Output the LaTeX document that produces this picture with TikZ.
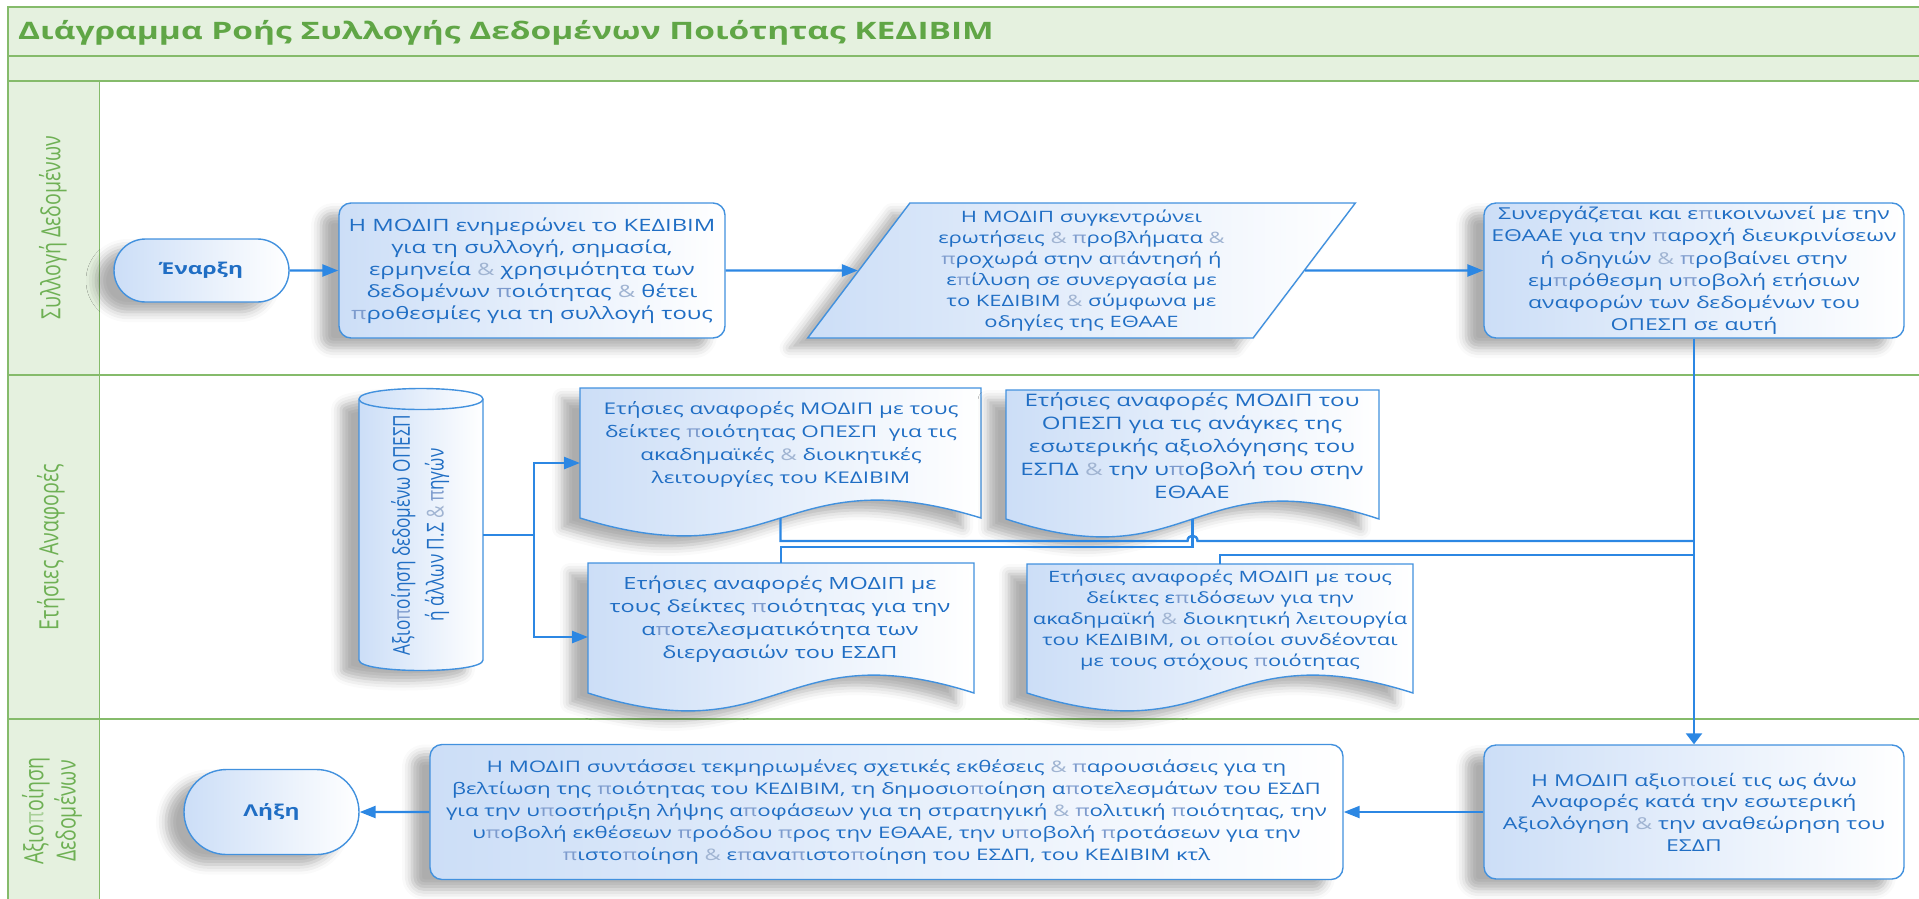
\documentclass[tikz,border=0pt]{standalone}
\usepackage{fontspec}
\usepackage{graphicx}
\setmainfont{Open Sans}
\newfontfamily\bodyfont[FakeStretch=1.4]{Open Sans}
\newfontfamily\titlefont[FakeStretch=1.395]{Open Sans}
\newfontfamily\plainfont{Open Sans}
\usetikzlibrary{arrows.meta,shapes.geometric,shapes.misc,shadows.blur,calc}

\definecolor{lanefill}{RGB}{229,241,223}
\definecolor{laneline}{RGB}{133,187,107}
\definecolor{titlegreen}{RGB}{96,166,70}
\definecolor{lanetext}{RGB}{110,176,84}
\definecolor{flow}{RGB}{44,135,227}
\definecolor{edge}{RGB}{66,145,222}
\definecolor{txtblue}{RGB}{32,110,196}
\definecolor{ampcol}{RGB}{160,180,210}
\definecolor{picol}{RGB}{125,155,205}
\definecolor{fillblue}{RGB}{204,222,247}

\newcommand\ampc{{\color{ampcol}\&}}
\newcommand\pgr{{\color{picol}π}}
\newcommand\lpgr{{\color{lanetext!60}π}}
\newcommand\bsz[2]{\bodyfont\fontsize{#1}{#2}\selectfont}

\tikzset{
  shapefill/.style={left color=fillblue, right color=white},
  shadowed/.style={blur shadow={shadow xshift=-18pt, shadow yshift=-10pt, shadow opacity=32, shadow blur radius=10pt}},
  body/.style={text=txtblue, font=\bsz{16}{22}, align=center},
  procbox/.style={body, draw=edge, line width=1.4pt, rounded corners=12pt, shapefill, shadowed, inner sep=0pt},
  termbox/.style={procbox, rounded rectangle, sharp corners, font=\bodyfont\bfseries\fontsize{16.3}{22}\selectfont},
  iobox/.style={procbox, trapezium, trapezium left angle=54.9, trapezium right angle=125.1, trapezium stretches=true, sharp corners},
  docframe/.style={draw=edge, line width=1.4pt, shapefill, shadowed},
  docanchor/.style={draw=none, inner sep=0pt, outer sep=0pt, anchor=north west},
  flowline/.style={draw=flow, line width=2.4pt},
  harrow/.style={flowline, -{Triangle[length=16pt, width=12pt]}},
  varrow/.style={flowline, -{Triangle[length=11pt, width=16pt]}},
  lanelabel/.style={text=lanetext, font=\plainfont\fontsize{19.6}{24}\selectfont, rotate=90, inner sep=0pt},
}

\begin{document}
\begin{tikzpicture}[x=1pt, y=-1pt]
\useasboundingbox (0,0) rectangle (1919,898);

% ---- swimlane frame ----
\fill[lanefill] (8,7) rectangle (1930,81);
\fill[lanefill] (8,81) rectangle (99.5,905);
\draw[laneline, line width=2pt] (1930,7) -- (8,7) -- (8,905);
\draw[laneline, line width=2pt] (8,56) -- (1930,56);
\draw[laneline, line width=2pt] (8,81) -- (1930,81);
\draw[laneline, line width=1.5pt] (99.5,81) -- (99.5,905);
\draw[laneline, line width=1.5pt] (8,375) -- (1930,375);
\draw[laneline, line width=1.5pt] (8,719) -- (1930,719);

\node[anchor=base west, text=titlegreen, font=\titlefont\bfseries\fontsize{24}{28}\selectfont, inner sep=0pt] (title) at (18,39.5) {Διάγραμμα Ροής Συλλογής Δεδομένων Ποιότητας ΚΕΔΙΒΙΜ};

\node[lanelabel] (lane1) at (53,228) {\scalebox{1}[1.35]{Συλλογή Δεδομένων}};
\node[lanelabel] (lane2) at (51,547) {\scalebox{1}[1.35]{Ετήσιες Αναφορές}};
\node[lanelabel] (lane3) at (53,811) {\scalebox{1}[1.35]{\begin{tabular}{@{}c@{}}Αξιο\lpgr{}οίηση\\Δεδομένων\end{tabular}}};

% ---- lane 1 ----
\node[termbox, minimum width=175pt, minimum height=63pt] (start) at (201.5,270.5) {Έναρξη};
\node[procbox, minimum width=386pt, minimum height=135pt, font=\bsz{17}{22}] (b1) at (532,270.5) {Η ΜΟΔΙΠ ενημερώνει το ΚΕΔΙΒΙΜ\\για τη συλλογή, σημασία,\\ερμηνεία \ampc{} χρησιμότητα των\\δεδομένων \pgr{}οιότητας \ampc{} θέτει\\\pgr{}ροθεσμίες για τη συλλογή τους};
\node[iobox, minimum width=549pt, minimum height=135pt, font=\bsz{15.7}{21}] (par) at (1081.5,270.5) {Η ΜΟΔΙΠ συγκεντρώνει\\ερωτήσεις \ampc{} \pgr{}ροβλήματα \ampc\\\pgr{}ροχωρά στην α\pgr{}άντησή ή\\ε\pgr{}ίλυση σε συνεργασία με\\το ΚΕΔΙΒΙΜ \ampc{} σύμφωνα με\\οδηγίες της ΕΘΑΑΕ};
\node[procbox, minimum width=420pt, minimum height=135pt, font=\bsz{16.4}{22.2}] (b3) at (1694,270.5) {Συνεργάζεται και ε\pgr{}ικοινωνεί με την\\ΕΘΑΑΕ για την \pgr{}αροχή διευκρινίσεων\\ή οδηγιών \ampc{} \pgr{}ροβαίνει στην\\εμ\pgr{}ρόθεσμη υ\pgr{}οβολή ετήσιων\\αναφορών των δεδομένων του\\ΟΠΕΣΠ σε αυτή};

% ---- lane 2 ----
\node[draw=none, inner sep=0pt, outer sep=0pt, minimum width=124pt, minimum height=261pt] (cyl) at (421,529.5) {};
\path[docframe] (cyl.north west) -- (cyl.south west) .. controls +(0,14) and +(0,14) .. (cyl.south east) -- (cyl.north east) .. controls +(0,-14) and +(0,-14) .. (cyl.north west) -- cycle;
\draw[draw=edge, line width=1.4pt] (cyl.north west) .. controls +(0,14) and +(0,14) .. (cyl.north east);
\node[body, rotate=90, font=\plainfont\fontsize{17.2}{25}\selectfont, inner sep=0pt] (cylt) at (420,535) {\scalebox{1}[1.35]{\begin{tabular}{@{}c@{}}Αξιο\pgr{}οίηση δεδομένω ΟΠΕΣΠ\\ή άλλων Π.Σ \ampc{} \pgr{}ηγών\end{tabular}}};

\node[docanchor, minimum width=401pt, minimum height=130pt] (d1) at (580,388) {};
\path[docframe] (d1.north west) -- (d1.south west) .. controls ($(d1.south)+(0,62)$) and ($(d1.south)+(0,-62)$) .. (d1.south east) -- (d1.north east) -- cycle;
\node[body, font=\bsz{16.1}{23}] (d1t) at (781,444.5) {Ετήσιες αναφορές ΜΟΔΙΠ με τους\\δείκτες \pgr{}οιότητας ΟΠΕΣΠ\ \ για τις\\ακαδημαϊκές \ampc{} διοικητικές\\λειτουργίες του ΚΕΔΙΒΙΜ};

\node[docanchor, minimum width=373pt, minimum height=129pt] (d2) at (1006,390) {};
\path[docframe] (d2.north west) -- (d2.south west) .. controls ($(d2.south)+(0,62)$) and ($(d2.south)+(0,-62)$) .. (d2.south east) -- (d2.north east) -- cycle;
\node[body, font=\bsz{17.2}{23}] (d2t) at (1192,445.5) {Ετήσιες αναφορές ΜΟΔΙΠ του\\ΟΠΕΣΠ για τις ανάγκες της\\εσωτερικής αξιολόγησης του\\ΕΣΠΔ \ampc{} την υ\pgr{}οβολή του στην\\ΕΘΑΑΕ};

\node[docanchor, minimum width=386pt, minimum height=130pt] (d3) at (588,563) {};
\path[docframe] (d3.north west) -- (d3.south west) .. controls ($(d3.south)+(0,62)$) and ($(d3.south)+(0,-62)$) .. (d3.south east) -- (d3.north east) -- cycle;
\node[body, font=\bsz{16.8}{23}] (d3t) at (780,619.5) {Ετήσιες αναφορές ΜΟΔΙΠ με\\τους δείκτες \pgr{}οιότητας για την\\α\pgr{}οτελεσματικότητα των\\διεργασιών του ΕΣΔΠ};

\node[docanchor, minimum width=386pt, minimum height=129pt] (d4) at (1027,564) {};
\path[docframe] (d4.north west) -- (d4.south west) .. controls ($(d4.south)+(0,62)$) and ($(d4.south)+(0,-62)$) .. (d4.south east) -- (d4.north east) -- cycle;
\node[body, font=\bsz{15.6}{21}] (d4t) at (1220,620) {Ετήσιες αναφορές ΜΟΔΙΠ με τους\\δείκτες ε\pgr{}ιδόσεων για την\\ακαδημαϊκή \ampc{} διοικητική λειτουργία\\του ΚΕΔΙΒΙΜ, οι ο\pgr{}οίοι συνδέονται\\με τους στόχους \pgr{}οιότητας};

% ---- lane 3 ----
\node[procbox, minimum width=420pt, minimum height=134pt, font=\bsz{16.4}{21.7}] (bR) at (1694,812) {Η ΜΟΔΙΠ αξιο\pgr{}οιεί τις ως άνω\\Αναφορές κατά την εσωτερική\\Αξιολόγηση \ampc{} την αναθεώρηση του\\ΕΣΔΠ};
\node[procbox, minimum width=913pt, minimum height=135pt, font=\bsz{15.9}{22}] (bM) at (886.5,812) {Η ΜΟΔΙΠ συντάσσει τεκμηριωμένες σχετικές εκθέσεις \ampc{} \pgr{}αρουσιάσεις για τη\\βελτίωση της \pgr{}οιότητας του ΚΕΔΙΒΙΜ, τη δημοσιο\pgr{}οίηση α\pgr{}οτελεσμάτων του ΕΣΔΠ\\για την υ\pgr{}οστήριξη λήψης α\pgr{}οφάσεων για τη στρατηγική \ampc{} \pgr{}ολιτική \pgr{}οιότητας, την\\υ\pgr{}οβολή εκθέσεων \pgr{}ροόδου \pgr{}ρος την ΕΘΑΑΕ, την υ\pgr{}οβολή \pgr{}ροτάσεων για την\\\pgr{}ιστο\pgr{}οίηση \ampc{} ε\pgr{}ανα\pgr{}ιστο\pgr{}οίηση του ΕΣΔΠ, του ΚΕΔΙΒΙΜ κτλ};
\node[termbox, minimum width=175pt, minimum height=85pt] (end) at (271.5,812) {Λήξη};

% ---- connectors ----
\draw[harrow] (start) -- (b1);
\draw[harrow] (b1) -- (par);
\draw[harrow] (par) -- (b3);
\draw[varrow] (b3) -- (bR);
\draw[harrow] (bR) -- (bM);
\draw[harrow] (bM) -- (end);

\coordinate (split) at (534,535);
\draw[flowline] (split -| cyl.east) -- (split);
\draw[harrow] (split) |- ($(d1.west)+(0,10)$);
\draw[harrow] (split) |- ($(d3.west)+(0,9)$);

\coordinate (j1) at (1694,541);
\coordinate (j2) at (1694,555);
\coordinate (hop) at (1192.5,541);
\draw[flowline] (d1.south) |- ($(hop)+(-5,0)$) .. controls +(0,-7) and +(0,-7) .. ($(hop)+(5,0)$) -- (j1);
\draw[flowline] (d3.north) -- ++(0,-16) -| (d2.south);
\draw[flowline] (d4.north) |- (j2);
\end{tikzpicture}
\end{document}
